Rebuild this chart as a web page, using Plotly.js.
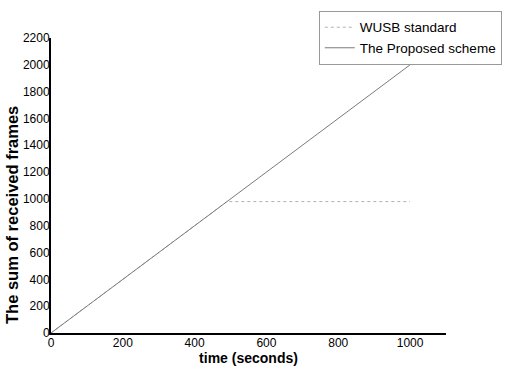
<!DOCTYPE html>
<html><head><meta charset="utf-8">
<script src="https://cdn.plot.ly/plotly-3.0.1.min.js"></script>
<style>body{margin:0;background:#fff}#c{width:514px;height:366px}</style>
</head><body><div id="c"></div>
<script>
const wusbX = [0, 490, 1000];
const wusbY = [0, 980, 980];
const propX = [0, 1000];
const propY = [0, 2000];
const xTicks = [0, 200, 400, 600, 800, 1000];
const yTicks = [0, 200, 400, 600, 800, 1000, 1200, 1400, 1600, 1800, 2000, 2200];

const traces = [
  {x: wusbX, y: wusbY, type: 'scatter', mode: 'lines', name: 'WUSB standard',
   line: {color: '#b0b0b0', width: 1, dash: 'dot'}},
  {x: propX, y: propY, type: 'scatter', mode: 'lines', name: 'The Proposed scheme',
   line: {color: '#7a7a7a', width: 1}}
];
const layout = {
  width: 514, height: 366,
  margin: {l: 51, r: 68, t: 37, b: 33},
  paper_bgcolor: '#fff', plot_bgcolor: '#fff',
  font: {family: '"Liberation Sans", Arial, sans-serif', color: '#000', size: 12},
  showlegend: true,
  legend: {x: 0.678, y: 1.088, xanchor: 'left', yanchor: 'top',
    bordercolor: '#999', borderwidth: 1, bgcolor: '#fff', itemwidth: 30,
    font: {size: 13.5, color: '#000'}, tracegroupgap: 0},
  xaxis: {range: [0, 1100], tickvals: xTicks, ticktext: xTicks.map(String),
    showgrid: false, zeroline: false, showline: true, linecolor: '#000', linewidth: 2,
    ticks: '', ticklen: 0, tickfont: {size: 12}, ticklabelstandoff: -2,
    title: {text: '<b>time (seconds)</b>', font: {size: 14}, standoff: 2}},
  yaxis: {range: [0, 2200], tickvals: yTicks, ticktext: yTicks.map(String),
    showgrid: false, zeroline: false, showline: true, linecolor: '#000', linewidth: 2,
    ticks: '', ticklen: 0, tickfont: {size: 12}, ticklabelstandoff: -3},
  annotations: [{text: '<b>The sum of received frames</b>', textangle: -90,
    xref: 'paper', yref: 'paper', x: -0.097, y: 0.399, xanchor: 'center', yanchor: 'middle',
    showarrow: false, font: {size: 16.5, color: '#000'}}]
};
Plotly.newPlot('c', traces, layout, {staticPlot: true, displayModeBar: false});
</script></body></html>
